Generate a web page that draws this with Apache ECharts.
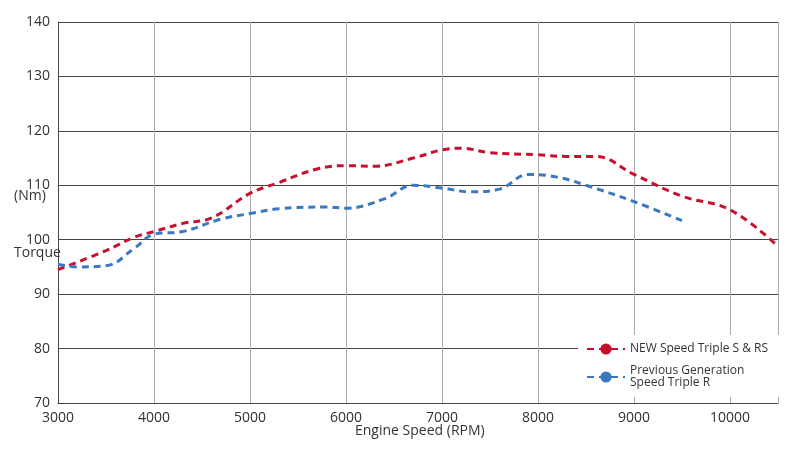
<!DOCTYPE html><html><head><meta charset="utf-8"><script src="https://cdn.jsdelivr.net/npm/echarts@6/dist/echarts.min.js"></script></head><body style="margin:0"><div id="c" style="width:800px;height:449px"></div><script>
const newSeries=[[3000,94.5],[3500,98],[3800,100.5],[4000,101.5],[4300,103],[4600,104],[5000,108.5],[5300,110.5],[5700,113],[6000,113.6],[6300,113.5],[6700,115],[7000,116.5],[7200,116.8],[7500,116],[8000,115.6],[8300,115.3],[8600,115.3],[9000,112],[9500,108],[10000,105.5],[10500,98.8]];
const prevSeries=[[3000,95.5],[3200,95],[3500,95.2],[3800,98.5],[4000,101],[4300,101.5],[4700,103.8],[5000,104.8],[5300,105.7],[5800,106],[6000,105.8],[6400,107.5],[6700,110],[7000,109.5],[7300,108.8],[7600,109.3],[7900,112],[8200,111.5],[8500,110],[9000,107],[9500,103.5]];
const names=['NEW Speed Triple S & RS','Previous Generation\nSpeed Triple R'];
const ch=echarts.init(document.getElementById('c'));
const ax={color:'#333',fontSize:14,fontFamily:'Open Sans'};
ch.setOption({
grid:{left:58,right:22,top:22,bottom:46},
xAxis:{type:'value',min:3000,max:10500,interval:1000,axisLine:{lineStyle:{color:'#444'}},axisTick:{show:false},axisLabel:Object.assign({showMaxLabel:false,formatter:v=>String(v)},ax),splitLine:{lineStyle:{color:'#aaa'}}},
yAxis:{type:'value',min:70,max:140,interval:10,axisLine:{show:true,lineStyle:{color:'#444'}},axisTick:{show:false},axisLabel:ax,splitLine:{lineStyle:{color:'#444'}}},
legend:{orient:'vertical',left:578,top:335,backgroundColor:'#fff',padding:[8,20,8,8],itemGap:10,itemWidth:38,textStyle:{fontSize:12,color:'#333',fontFamily:'Open Sans',lineHeight:12},data:names},
graphic:[{type:'text',left:14,top:246,style:{text:'Torque',fontSize:14,fill:'#333',fontFamily:'Open Sans'}},{type:'text',left:14,top:189,style:{text:'(Nm)',fontSize:14,fill:'#333',fontFamily:'Open Sans'}},{type:'text',left:355,top:424,style:{text:'Engine Speed (RPM)',fontSize:14,fill:'#333',fontFamily:'Open Sans'}}],
series:[
{name:names[0],type:'line',smooth:0.4,symbol:'none',data:newSeries,lineStyle:{color:'#c8102e',width:3,type:[7,5]},itemStyle:{color:'#c8102e'}},
{name:names[1],type:'line',smooth:0.4,symbol:'none',data:prevSeries,lineStyle:{color:'#3a78c2',width:3,type:[7,5]},itemStyle:{color:'#3a78c2'}}
]});
</script></body></html>
